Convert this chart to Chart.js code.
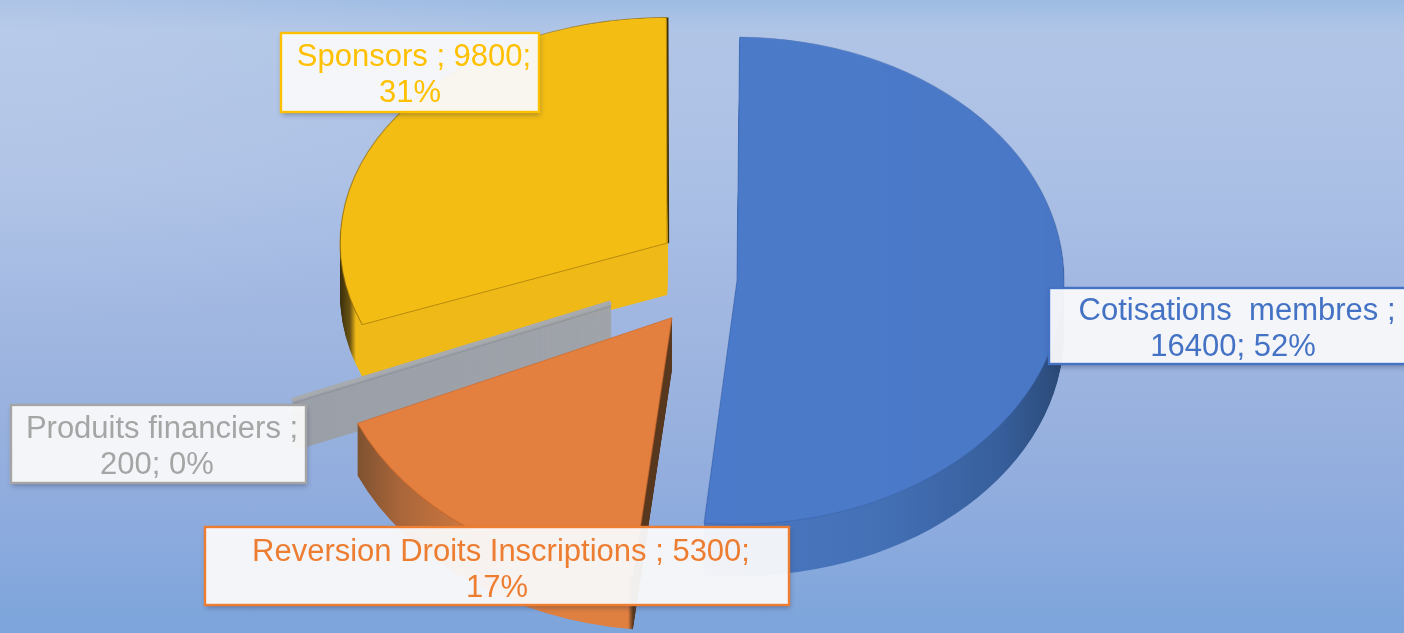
<!DOCTYPE html>
<html><head><meta charset="utf-8">
<style>
html,body{margin:0;padding:0;width:1404px;height:633px;overflow:hidden}
body{background:
 radial-gradient(ellipse 520px 300px at 0px 40px,rgba(190,206,235,.55),rgba(190,206,235,0)),
 linear-gradient(180deg,#9dbbe3 0px,#b0c5e6 30px,#abc0e5 180px,#a3b9e2 280px,#98b1de 420px,#8eabde 520px,#7ca5db 633px)}
canvas{display:block}
</style>
<script src="https://cdn.jsdelivr.net/npm/chart.js@4/dist/chart.umd.min.js"></script>
</head><body><canvas id="c" width="1404" height="633"></canvas>
<script>
const categories = ["Cotisations  membres", "Reversion Droits Inscriptions", "Produits financiers", "Sponsors"];
const values = [16400, 5300, 200, 9800];
const percents = ["52%", "17%", "0%", "31%"];
const faceColors = ["rgba(75,122,202,0.94)", "#e38040", "#a7aaae", "#f3bd14"];
const textColors = ["#4472c4", "#ed7d31", "#a5a5a5", "#ffc000"];
const labelLines = [
  [categories[0]+" ;", values[0]+"; "+percents[0]],
  [categories[1]+" ; "+values[1]+";", percents[1]],
  [categories[2]+" ;", values[2]+"; "+percents[2]],
  [categories[3]+" ; "+values[3]+";", percents[3]]
];
/* Chart.js moves an arc by offset/4 when it draws it */
const explode = [68, 324, 472, 256];
const tilt = [0.745, 0.76, 0.74, 0.69];
const sliceRadius = [327, 344, 344, 327];
const sliceShift = [12, 0, 0, 0];
const drawOrder = [3, 2, 1, 0];
const depth = 52, pivotY = 268, R = 327;
const wallStops = [
  [[700,"#4a78c2"],[880,"#4470b6"],[1000,"#375f9c"],[1060,"#2b4a78"]],
  [[358,"#7f5230"],[400,"#a9663a"],[500,"#df7f40"],[628,"#df7f40"],[633,"#57381f"],[680,"#57381f"]],
  [[290,"#9a9ea6"],[620,"#9fa3a8"]],
  [[340,"#3a2e0c"],[350,"#6b5312"],[356,"#efba17"],[670,"#efba17"]]
];
const boxes = [
  {x:1049,y:288,w:358,h:76,cx:[1237,1233],ly:[309,345]},
  {x:205,y:527,w:584,h:78,cx:[501,497],ly:[550,586]},
  {x:11,y:405,w:295,h:78,cx:[162,157],ly:[427,463]},
  {x:281,y:33,w:258,h:79,cx:[414,410],ly:[55,91]}
];
function drawArc(ctx, el, i, dy, fill, border, dx, bw) {
  const o = el.options;
  const over = Object.create(o);
  Object.defineProperty(over,"backgroundColor",{value:fill});
  Object.defineProperty(over,"borderColor",{value:border||"rgba(0,0,0,0)"});
  Object.defineProperty(over,"borderWidth",{value:border?(bw||1.2):0});
  const r0 = el.outerRadius;
  const fix = 1 - Math.sin(Math.min(Math.PI, el.circumference));
  el.outerRadius = sliceRadius[i] - (explode[i]/4)*fix;
  el.options = over;
  ctx.save();
  ctx.translate(dx||0, pivotY+sliceShift[i]+dy);
  ctx.scale(1, tilt[i]);
  ctx.translate(0, -el.y);
  el.draw(ctx);
  ctx.restore();
  el.options = o;
  el.outerRadius = r0;
}
function wallGradient(ctx, el, i){
  /* the element translates the context by its offset before filling */
  const shift = Math.cos((el.startAngle+el.endAngle)/2)*explode[i]/4;
  const g = ctx.createLinearGradient(-shift,0,1404-shift,0);
  wallStops[i].forEach(s=>g.addColorStop(s[0]/1404,s[1]));
  return g;
}
const pie3d = {
  id:"pie3d",
  beforeDatasetDraw(chart){
    const ctx = chart.ctx, arcs = chart.getDatasetMeta(0).data;
    const edges = ["rgba(60,100,170,.5)","rgba(200,100,40,.6)",null,"rgba(150,110,10,.7)"];
    drawOrder.forEach(i=>{
      const el = arcs[i];
      if(i===3) drawArc(ctx,el,i,0,"#3a2e0c",null,2);
      const g = wallGradient(ctx,el,i);
      if(i===2){
        for(let d=depth;d>=1;d--) drawArc(ctx,el,i,d,g,g,0,2);
        drawArc(ctx,el,i,5,"#8c9099","#8c9099",0,1.2);
        drawArc(ctx,el,i,1,faceColors[i],faceColors[i],0,5);
      } else {
        for(let d=depth;d>=1;d--) drawArc(ctx,el,i,d,g);
        drawArc(ctx,el,i,0,faceColors[i],edges[i]);
      }
    });
    return false;
  },
  afterDraw(chart){
    const ctx = chart.ctx;
    [0,2,3,1].forEach(i=>{
      const b = boxes[i];
      ctx.save();
      ctx.shadowColor="rgba(40,50,80,.4)"; ctx.shadowBlur=5; ctx.shadowOffsetX=1; ctx.shadowOffsetY=3;
      ctx.fillStyle="rgba(255,255,255,.92)";
      ctx.fillRect(b.x,b.y,b.w,b.h);
      ctx.restore();
      ctx.strokeStyle=textColors[i]; ctx.lineWidth=2.4;
      ctx.strokeRect(b.x,b.y,b.w,b.h);
      ctx.fillStyle=textColors[i];
      ctx.font='31px "Liberation Sans", Arial, sans-serif';
      ctx.textAlign="center"; ctx.textBaseline="middle";
      labelLines[i].forEach((t,k)=>ctx.fillText(t,b.cx[k],b.ly[k]+2));
    });
  }
};
new Chart(document.getElementById("c"),{
  type:"pie",
  data:{labels:categories,datasets:[{data:values,backgroundColor:faceColors,offset:explode,borderWidth:0}]},
  options:{
    responsive:false,animation:false,radius:R,rotation:0,
    layout:{padding:{left:36}},
    plugins:{legend:{display:false},tooltip:{enabled:false}}
  },
  plugins:[pie3d]
});
</script>
</body></html>
